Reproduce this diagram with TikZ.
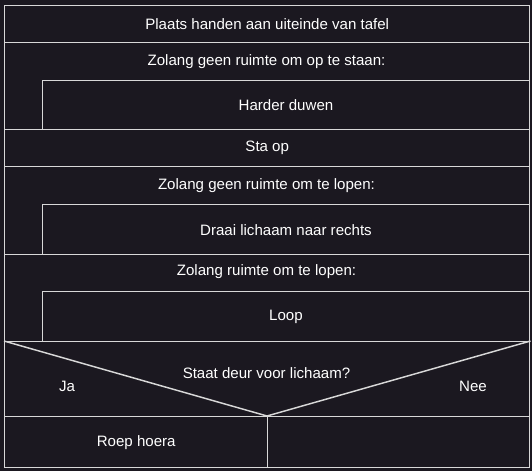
\documentclass[tikz,border=0pt]{standalone}
\usepackage{fontspec}
\setmainfont{Liberation Sans}
\definecolor{bg}{HTML}{1B1820}
\definecolor{ln}{HTML}{D8D8D8}
\begin{document}
\begin{tikzpicture}[x=0.75pt,y=-0.75pt,
  blk/.style={draw=ln,line width=1.1pt,anchor=north west,inner sep=0pt,text=white,font=\fontsize{11.3}{13}\selectfont},
  lbl/.style={text=white,inner sep=0pt,font=\fontsize{11.3}{13}\selectfont}]
\fill[bg] (0,0) rectangle (532,471);
\useasboundingbox (0,0) rectangle (532,471);
% top statement
\node[blk,minimum width=393.75pt,minimum height=28.1pt] (b1) at (4,4.5) {Plaats handen aan uiteinde van tafel};
% loop 1
\node[blk,minimum width=393.75pt,minimum height=65.25pt] (l1) at (4,42) {};
\node[lbl] (l1t) at (266.5,62) {Zolang geen ruimte om op te staan:};
\node[blk,minimum width=365.6pt,minimum height=36.75pt] (b2) at (41.5,80) {Harder duwen};
% statement
\node[blk,minimum width=393.75pt,minimum height=27.75pt] (b3) at (4,129) {Sta op};
% loop 2
\node[blk,minimum width=393.75pt,minimum height=66pt] (l2) at (4,166) {};
\node[lbl] (l2t) at (266.5,186) {Zolang geen ruimte om te lopen:};
\node[blk,minimum width=365.6pt,minimum height=37.5pt] (b4) at (41.5,204) {Draai lichaam naar rechts};
% loop 3
\node[blk,minimum width=393.75pt,minimum height=65.25pt] (l3) at (4,254) {};
\node[lbl] (l3t) at (266.5,272) {Zolang ruimte om te lopen:};
\node[blk,minimum width=365.6pt,minimum height=37.5pt] (b5) at (41.5,291) {Loop};
% decision
\node[blk,minimum width=393.75pt,minimum height=56.25pt] (d) at (4,341) {};
\coordinate (dv) at (267,416);
\draw[ln,line width=1.1pt] (d.north west) -- (dv) -- (d.north east);
\node[lbl] (dq) at (266.5,373) {Staat deur voor lichaam?};
\node[lbl] (ja) at (67,386) {Ja};
\node[lbl] (nee) at (473,386) {Nee};
\node[blk,minimum width=197.25pt,minimum height=38.25pt] (yes) at (4,416) {Roep hoera};
\node[blk,minimum width=196.5pt,minimum height=38.25pt] (no) at (267,416) {};
\end{tikzpicture}
\end{document}
